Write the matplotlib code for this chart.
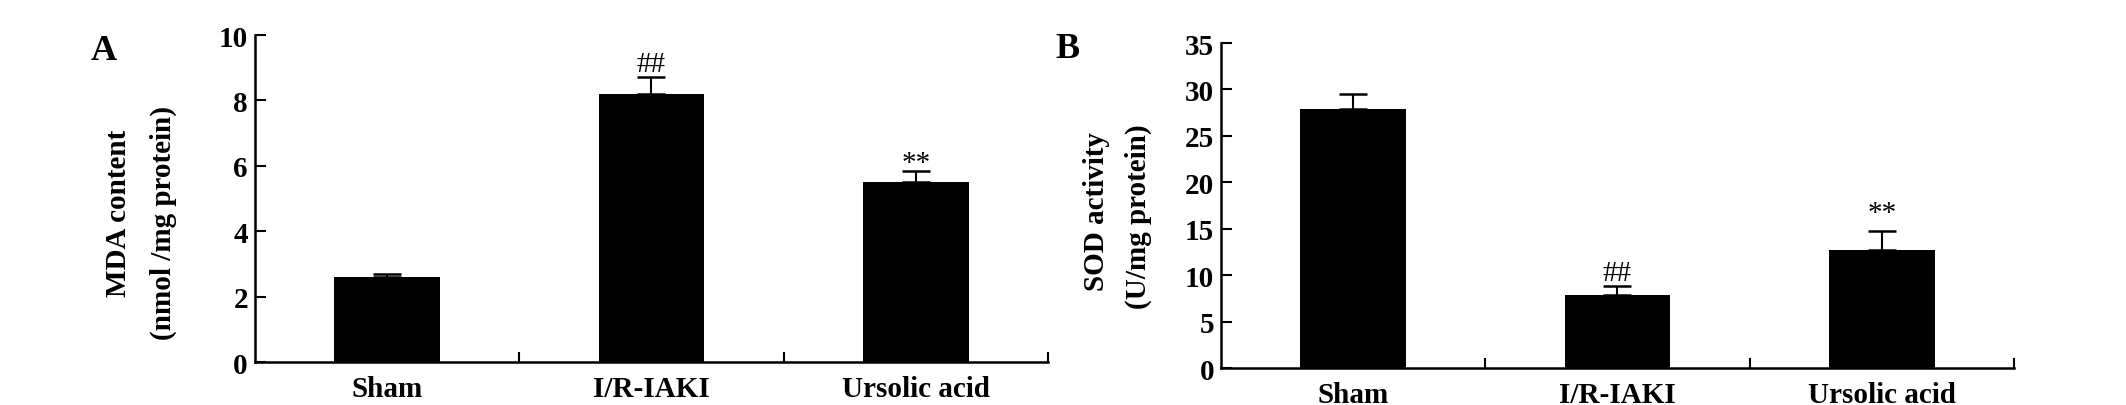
import numpy as np
import matplotlib
matplotlib.use('Agg')
import matplotlib.pyplot as plt

plt.rcParams['font.family'] = ['Liberation Serif', 'DejaVu Serif']

groups = ['Sham', 'I/R-IAKI', 'Ursolic acid']

mda_mean = [2.6, 8.2, 5.5]
mda_err = [0.1, 0.52, 0.35]
mda_marks = ['', '##', '**']

sod_mean = [27.9, 7.9, 12.7]
sod_err = [1.6, 0.95, 2.1]
sod_marks = ['', '##', '**']

fig = plt.figure(figsize=(21.26, 4.06), dpi=100)
axA = fig.add_axes([0.1199, 0.1059, 0.3730, 0.8054])
axB = fig.add_axes([0.5743, 0.0911, 0.3730, 0.8005])


def draw_panel(ax, means, errs, marks, ymax, ystep, mark_off):
    x = np.arange(len(groups))
    ax.bar(x, means, width=0.40, color='black', zorder=2)
    ax.errorbar(x, means, yerr=[np.zeros(len(errs)), errs], fmt='none',
                ecolor='black', elinewidth=1.5, capsize=10, capthick=1.8, zorder=3)
    for xi, m, e, s in zip(x, means, errs, marks):
        if s:
            ax.annotate(s, (xi, m + e), xytext=(0, mark_off[s]), textcoords='offset points',
                        ha='center', va='bottom', fontsize=21, fontweight='normal')
    ax.set_xlim(-0.5, 2.5)
    ax.set_ylim(0, ymax)
    ax.set_yticks(np.arange(0, ymax + 0.01, ystep))
    ax.set_xticks(x)
    ax.set_xticklabels(groups, fontsize=21, fontweight='bold')
    ax.set_xticks([0.5, 1.5, 2.5], minor=True)
    ax.tick_params(axis='x', which='major', length=0, pad=9)
    ax.tick_params(axis='x', which='minor', direction='in', length=7, width=1.5)
    ax.tick_params(axis='y', direction='in', length=8, width=1.5, pad=5, labelsize=21)
    for lab in ax.get_yticklabels():
        lab.set_fontweight('bold')
    for side in ['top', 'right']:
        ax.spines[side].set_visible(False)
    for side in ['left', 'bottom']:
        ax.spines[side].set_linewidth(1.8)


draw_panel(axA, mda_mean, mda_err, mda_marks, 10, 2, {'##': 0, '**': -4})
draw_panel(axB, sod_mean, sod_err, sod_marks, 35, 5, {'##': 0, '**': 3})

# y labels
fig.text(118 / 2126, 1 - 213 / 406, 'MDA content', rotation=90, ha='center', va='center',
         fontsize=21, fontweight='bold')
fig.text(163 / 2126, 1 - 223 / 406, '(nmol /mg protein)', rotation=90, ha='center', va='center',
         fontsize=21, fontweight='bold')
fig.text(1097 / 2126, 1 - 212 / 406, 'SOD activity', rotation=90, ha='center', va='center',
         fontsize=21, fontweight='bold')
fig.text(1138 / 2126, 1 - 217 / 406, '(U/mg protein)', rotation=90, ha='center', va='center',
         fontsize=21, fontweight='bold')

# panel letters
fig.text(104 / 2126, 1 - 52 / 406, 'A', ha='center', va='center', fontsize=26, fontweight='bold')
fig.text(1068 / 2126, 1 - 49 / 406, 'B', ha='center', va='center', fontsize=26, fontweight='bold')

fig.savefig('out.png', dpi=100)
